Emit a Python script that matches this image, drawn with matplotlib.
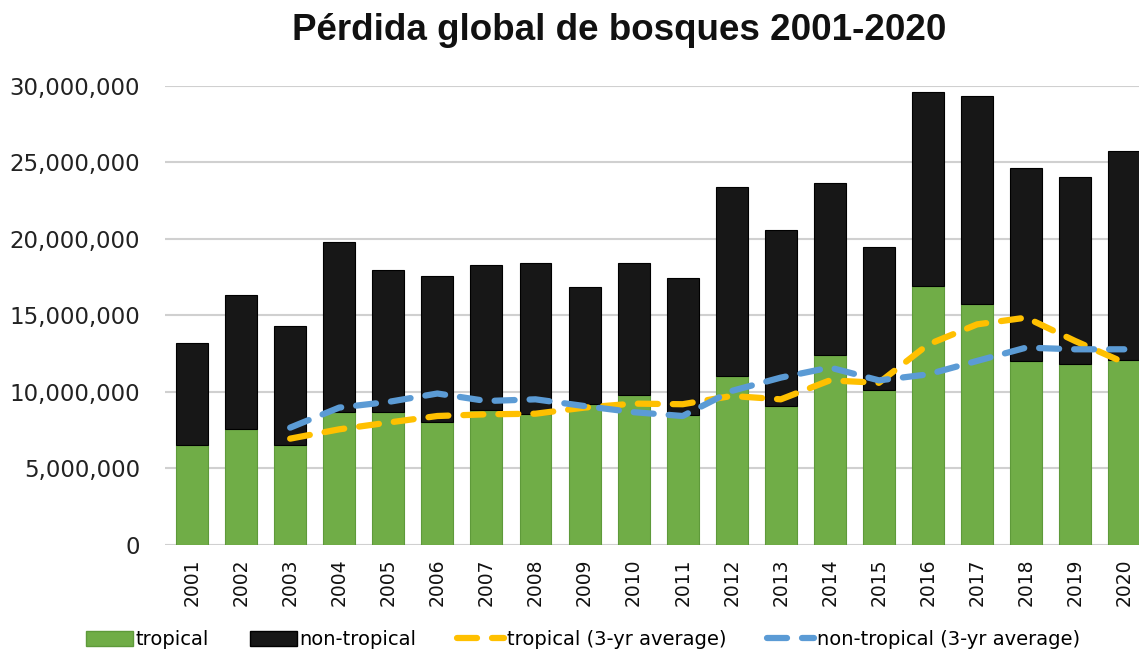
import matplotlib
matplotlib.use("Agg")
import matplotlib.pyplot as plt
from matplotlib.ticker import FuncFormatter
from matplotlib.lines import Line2D
from matplotlib.patches import Patch
import numpy as np

years = [str(y) for y in range(2001, 2021)]
tropical = [6.54, 7.56, 6.54, 8.67, 8.67, 8.06, 8.80, 8.54, 9.20, 9.80,
            8.50, 11.02, 9.08, 12.42, 10.11, 16.93, 15.77, 12.03, 11.81, 12.11]
total = [13.22, 16.36, 14.34, 19.78, 17.97, 17.56, 18.28, 18.45, 16.86, 18.45,
         17.47, 23.42, 20.61, 23.64, 19.50, 29.63, 29.32, 24.66, 24.05, 25.75]
trop_avg = [None, None, 6.95, 7.56, 8.00, 8.43, 8.54, 8.58, 8.98, 9.24,
            9.20, 9.74, 9.52, 10.76, 10.60, 13.10, 14.42, 14.86, 13.33, 11.92]
nontrop_avg = [None, None, 7.67, 8.98, 9.35, 9.90, 9.41, 9.52, 9.08, 8.68,
               8.43, 10.07, 10.94, 11.60, 10.76, 11.15, 12.03, 12.90, 12.79, 12.79]

M = 1e6
trop = np.array(tropical) * M
nontrop = (np.array(total) - np.array(tropical)) * M

GREEN = "#70AD47"
BLACK = "#171717"
YELLOW = "#FFC000"
BLUE = "#5B9BD5"

fig = plt.figure(figsize=(11.39, 6.54), dpi=100)
ax = fig.add_axes([0.1449, 0.1667, 0.8551, 0.7018])

x = np.arange(len(years))
w = 0.65
ax.bar(x, trop, w, color=GREEN, edgecolor="#5E9A3A", linewidth=0.8, zorder=2)
ax.bar(x, nontrop, w, bottom=trop, color=BLACK, edgecolor="#000000", linewidth=0.8, zorder=2)

def series(vals):
    xs = [i for i, v in enumerate(vals) if v is not None]
    ys = [vals[i] * M for i in xs]
    return xs, ys

ls = (0, (3.2, 2.4))
xs, ys = series(trop_avg)
ax.plot(xs, ys, color=YELLOW, lw=4.5, linestyle=ls, dash_capstyle="round", zorder=3)
xs, ys = series(nontrop_avg)
ax.plot(xs, ys, color=BLUE, lw=4.5, linestyle=ls, dash_capstyle="round", zorder=3)

ax.set_ylim(0, 30 * M)
ax.set_xlim(-0.55, 19.3)
ax.set_yticks(np.arange(0, 30 * M + 1, 5 * M))
ax.yaxis.set_major_formatter(FuncFormatter(lambda v, p: f"{int(v):,}"))
ax.grid(axis="y", color="#D0D0D0", linewidth=1.5, zorder=0)
ax.set_axisbelow(True)
for s in ax.spines.values():
    s.set_visible(False)
ax.tick_params(axis="both", length=0)
ax.tick_params(axis="y", labelsize=16.5, labelcolor="#222222", pad=18)
ax.set_xticks(x)
ax.set_xticklabels(years, rotation=90, fontsize=13.5, color="#111111")
ax.tick_params(axis="x", pad=10)

fig.text(0.5435, 0.953, "Pérdida global de bosques 2001-2020", ha="center", va="center",
         fontsize=26.5, fontweight="bold",
         family=["Liberation Sans Narrow", "Liberation Sans", "DejaVu Sans"],
         color="#111111")

handles = [
    Patch(facecolor=GREEN, edgecolor="#5E9A3A"),
    Patch(facecolor=BLACK, edgecolor="#000000"),
    Line2D([0], [0], color=YELLOW, lw=4.5, linestyle=ls, dash_capstyle="round"),
    Line2D([0], [0], color=BLUE, lw=4.5, linestyle=ls, dash_capstyle="round"),
]
labels = ["tropical", "non-tropical", "tropical (3-yr average)", "non-tropical (3-yr average)"]
fig.legend(handles, labels, loc="center", bbox_to_anchor=(0.512, 0.022), ncol=4,
           frameon=False, fontsize=14, handlelength=2.4, handleheight=0.8,
           handletextpad=0.15, columnspacing=2.1)

fig.savefig("out.png", dpi=100)
